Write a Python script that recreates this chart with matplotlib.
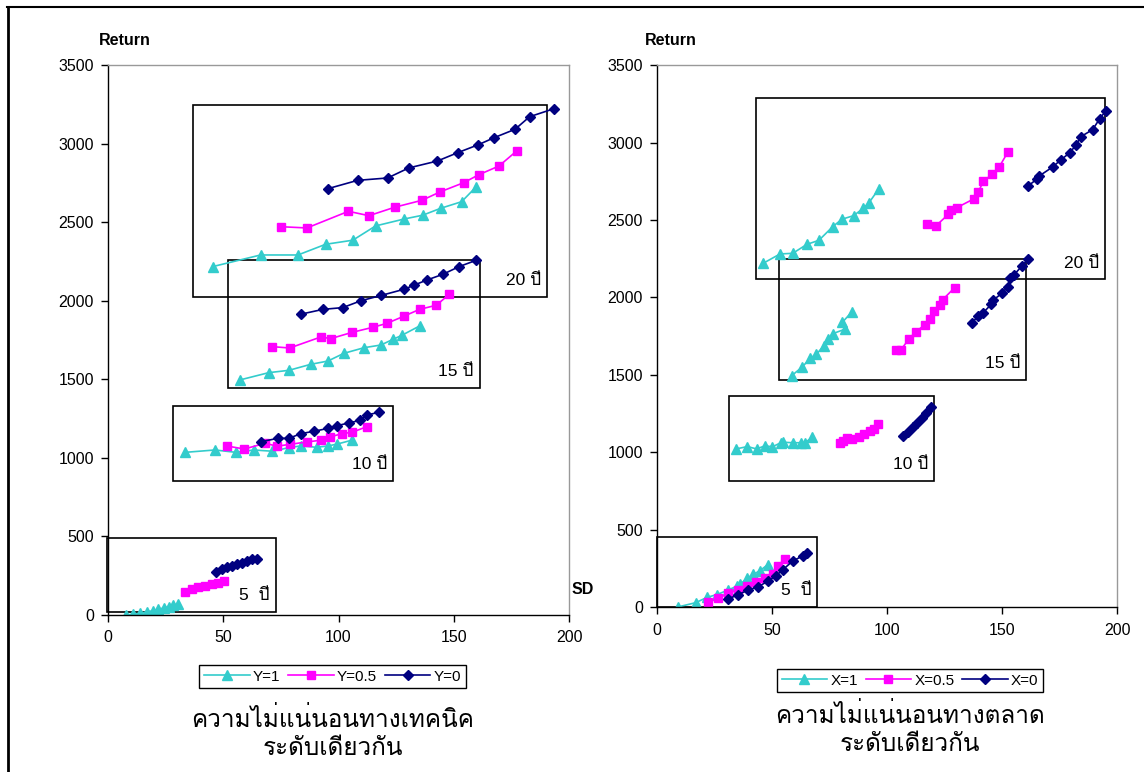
import matplotlib
matplotlib.use('Agg')
import matplotlib.pyplot as plt
from matplotlib import font_manager, ft2font
from matplotlib.lines import Line2D
from matplotlib.patches import Rectangle

# ---- left panel: technical uncertainty (Y) ----
L20_Y0_SD = [95.4, 108.3, 121.3, 130.5, 142.9, 151.7, 160.7, 167.6, 176.6, 182.9, 193.5]
L20_Y0_R = [2713, 2766, 2781, 2845, 2889, 2942, 2993, 3038, 3091, 3171, 3222]
L20_Y05_SD = [74.9, 86.3, 104.3, 113.2, 124.4, 136.2, 144.0, 154.3, 160.9, 169.6, 177.3]
L20_Y05_R = [2471, 2463, 2569, 2541, 2595, 2639, 2692, 2751, 2802, 2857, 2953]
L20_Y1_SD = [45.4, 66.2, 82.4, 94.4, 106.2, 116.1, 128.5, 136.5, 144.3, 153.4, 159.8]
L20_Y1_R = [2217, 2291, 2291, 2359, 2385, 2476, 2520, 2544, 2588, 2630, 2726]

L15_Y0_SD = [83.6, 93.3, 101.8, 109.8, 118.6, 128.5, 132.6, 138.4, 145.3, 152.3, 159.7]
L15_Y0_R = [1914, 1945, 1956, 2000, 2034, 2073, 2098, 2132, 2168, 2217, 2257]
L15_Y05_SD = [71.0, 78.8, 92.3, 96.7, 106.0, 115.0, 121.0, 128.3, 135.2, 142.4, 148.1]
L15_Y05_R = [1708, 1699, 1769, 1759, 1799, 1831, 1856, 1901, 1945, 1971, 2041]
L15_Y1_SD = [57.3, 69.7, 78.5, 87.9, 95.4, 102.3, 111.1, 118.4, 123.6, 127.5, 135.4]
L15_Y1_R = [1496, 1542, 1557, 1595, 1616, 1665, 1701, 1718, 1754, 1780, 1841]

L10_Y0_SD = [66.5, 73.6, 78.5, 83.6, 89.4, 95.6, 99.5, 104.4, 109.5, 112.4, 117.6]
L10_Y0_R = [1103, 1124, 1124, 1154, 1169, 1188, 1205, 1222, 1239, 1273, 1290]
L10_Y05_SD = [51.8, 59.1, 68.2, 73.3, 79.0, 86.2, 92.3, 96.3, 101.6, 106.0, 112.2]
L10_Y05_R = [1075, 1056, 1093, 1074, 1086, 1101, 1112, 1133, 1154, 1163, 1198]
L10_Y1_SD = [33.5, 46.4, 55.5, 63.3, 71.3, 78.5, 83.7, 90.5, 95.6, 99.5, 105.7]
L10_Y1_R = [1035, 1050, 1035, 1050, 1042, 1065, 1076, 1067, 1076, 1088, 1112]

L5_Y0_SD = [46.7, 49.3, 51.5, 53.7, 55.8, 58.0, 60.2, 62.3, 64.8]
L5_Y0_R = [276, 291, 304, 312, 325, 333, 344, 354, 358]
L5_Y05_SD = [33.4, 36.3, 39.2, 42.1, 45.0, 47.9, 50.3]
L5_Y05_R = [144, 165, 176, 185, 195, 206, 216]
L5_Y1_SD = [7.8, 11.0, 13.9, 16.8, 19.4, 21.8, 24.3, 26.5, 28.3, 30.5]
L5_Y1_R = [0, 4, 11, 19, 27, 36, 45, 53, 62, 70]

# ---- right panel: market uncertainty (X) ----
R20_X0_SD = [161.2, 165.1, 166.0, 172.0, 175.5, 179.4, 182.2, 184.3, 189.4, 192.5, 195.2]
R20_X0_R = [2718, 2763, 2782, 2842, 2887, 2933, 2984, 3038, 3083, 3154, 3205]
R20_X05_SD = [117.5, 121.4, 126.7, 127.7, 130.4, 137.7, 139.7, 141.9, 145.7, 148.7, 152.5]
R20_X05_R = [2474, 2464, 2537, 2565, 2580, 2636, 2681, 2750, 2795, 2840, 2937]
R20_X1_SD = [46.2, 53.5, 59.0, 65.2, 70.4, 76.4, 80.4, 85.5, 89.7, 92.2, 96.4]
R20_X1_R = [2221, 2281, 2285, 2343, 2369, 2457, 2505, 2528, 2576, 2612, 2700]

R15_X0_SD = [137.0, 139.7, 141.6, 145.3, 146.2, 150.0, 152.5, 153.6, 155.3, 158.6, 161.3]
R15_X0_R = [1836, 1883, 1898, 1956, 1984, 2027, 2070, 2124, 2147, 2203, 2248]
R15_X05_SD = [103.8, 106.0, 109.6, 112.5, 116.5, 118.7, 120.3, 122.9, 124.2, 129.4]
R15_X05_R = [1661, 1661, 1734, 1778, 1825, 1861, 1913, 1952, 1986, 2063]
R15_X1_SD = [58.6, 63.0, 66.7, 69.3, 72.6, 74.3, 76.5, 81.6, 80.6, 84.7]
R15_X1_R = [1496, 1550, 1608, 1634, 1689, 1730, 1767, 1795, 1840, 1907]

R10_X0_SD = [106.8, 109.3, 111.4, 113.2, 115.1, 117.0, 119.1]
R10_X0_R = [1108, 1134, 1167, 1188, 1221, 1253, 1292]
R10_X05_SD = [79.6, 81.0, 82.5, 84.8, 87.7, 90.1, 92.6, 94.5, 96.1]
R10_X05_R = [1063, 1075, 1095, 1085, 1100, 1120, 1139, 1150, 1184]
R10_X1_SD = [34.3, 39.3, 43.3, 47.1, 50.1, 53.8, 54.9, 59.0, 62.5, 64.3, 67.5]
R10_X1_R = [1023, 1038, 1023, 1044, 1036, 1063, 1066, 1063, 1063, 1063, 1098]

R5_X0_SD = [31.0, 35.3, 39.7, 44.0, 48.4, 51.7, 54.6, 59.0, 63.3, 65.1]
R5_X0_R = [55, 83, 113, 134, 171, 205, 242, 300, 332, 354]
R5_X05_SD = [22.3, 26.7, 31.0, 35.3, 39.0, 43.0, 47.0, 50.6, 52.5, 55.7]
R5_X05_R = [37, 59, 92, 113, 139, 167, 188, 216, 268, 315]
R5_X1_SD = [9.0, 16.8, 21.9, 26.0, 31.0, 34.9, 36.1, 39.3, 41.9, 44.8, 48.1]
R5_X1_R = [3, 31, 66, 83, 113, 139, 150, 190, 214, 238, 276]

# horizon boxes (x0, y0, x1, y1) and labels
HORIZON_LABELS = ['20 ปี', '15 ปี', '10 ปี', '5  ปี']
LEFT_BOXES = [(36.7, 2026, 190.5, 3244), (51.9, 1447, 161.2, 2257),
              (28.2, 853, 123.5, 1330), (-0.5, 21, 72.7, 492)]
RIGHT_BOXES = [(43.2, 2117, 194.6, 3285), (53.2, 1468, 160.6, 2248),
               (31.2, 816, 120.4, 1365), (0, 5, 69.7, 453)]

LEFT_NAMES = ['Y=1', 'Y=0.5', 'Y=0']
RIGHT_NAMES = ['X=1', 'X=0.5', 'X=0']
LEFT_CAPTION = 'ความไม่แน่นอนทางเทคนิค\nระดับเดียวกัน'
RIGHT_CAPTION = 'ความไม่แน่นอนทางตลาด\nระดับเดียวกัน'

CYAN = '#33CCCC'
MAGENTA = '#FF00FF'
NAVY = '#000080'


def find_thai_font():
    """first installed family that has Thai glyphs"""
    for f in font_manager.fontManager.ttflist:
        try:
            if 0x0E01 in ft2font.FT2Font(f.fname).get_charmap():
                return f.name
        except Exception:
            pass
    return 'DejaVu Sans'


THAI = find_thai_font()
plt.rcParams['font.family'] = ['Liberation Sans', THAI, 'DejaVu Sans']


def draw_panel(ax, groups, boxes):
    styles = [(CYAN, '^', 6.5), (MAGENTA, 's', 5.5), (NAVY, 'D', 5.5)]
    handles = []
    for series in groups:
        hs = []
        for (sd, ret), (col, mk, ms) in zip(series, styles):
            h, = ax.plot(sd, ret, color=col, marker=mk, markersize=ms,
                         markeredgecolor=col, lw=1.2)
            hs.append(h)
        handles = hs
    for (x0, y0, x1, y1), lab in zip(boxes, HORIZON_LABELS):
        ax.add_patch(Rectangle((x0, y0), x1 - x0, y1 - y0, fill=False,
                               edgecolor='black', lw=1.2, clip_on=False))
        ax.text(x1 - 2.5, y0 + 55, lab, ha='right', va='bottom', fontsize=12.5)

    ax.set_xlim(0, 200)
    ax.set_ylim(0, 3500)
    ax.set_xticks([0, 50, 100, 150, 200])
    ax.set_yticks(range(0, 3501, 500))
    for s in ['left', 'bottom']:
        ax.spines[s].set_color('black')
        ax.spines[s].set_linewidth(1.0)
    for s in ['top', 'right']:
        ax.spines[s].set_color('#999999')
        ax.spines[s].set_linewidth(1.0)
    ax.tick_params(direction='out', length=5, width=1, labelsize=11.5,
                   top=False, right=False)
    ax.tick_params(axis='y', pad=5)
    ax.tick_params(axis='x', pad=6)
    return handles


fig = plt.figure(figsize=(11.44, 7.72), dpi=100)
ax1 = fig.add_axes([0.0944, 0.2034, 0.4030, 0.7124])
ax2 = fig.add_axes([0.5743, 0.2131, 0.4021, 0.7027])

left_groups = [
    [(L20_Y1_SD, L20_Y1_R), (L20_Y05_SD, L20_Y05_R), (L20_Y0_SD, L20_Y0_R)],
    [(L15_Y1_SD, L15_Y1_R), (L15_Y05_SD, L15_Y05_R), (L15_Y0_SD, L15_Y0_R)],
    [(L10_Y1_SD, L10_Y1_R), (L10_Y05_SD, L10_Y05_R), (L10_Y0_SD, L10_Y0_R)],
    [(L5_Y1_SD, L5_Y1_R), (L5_Y05_SD, L5_Y05_R), (L5_Y0_SD, L5_Y0_R)],
]
right_groups = [
    [(R20_X1_SD, R20_X1_R), (R20_X05_SD, R20_X05_R), (R20_X0_SD, R20_X0_R)],
    [(R15_X1_SD, R15_X1_R), (R15_X05_SD, R15_X05_R), (R15_X0_SD, R15_X0_R)],
    [(R10_X1_SD, R10_X1_R), (R10_X05_SD, R10_X05_R), (R10_X0_SD, R10_X0_R)],
    [(R5_X1_SD, R5_X1_R), (R5_X05_SD, R5_X05_R), (R5_X0_SD, R5_X0_R)],
]

h1 = draw_panel(ax1, left_groups, LEFT_BOXES)
h2 = draw_panel(ax2, right_groups, RIGHT_BOXES)

legend_kw = dict(loc='center', ncol=3, fontsize=11, frameon=True, fancybox=False,
                 edgecolor='black', framealpha=1, handlelength=3.0,
                 handletextpad=0.2, columnspacing=0.5, borderpad=0.3)
leg1 = fig.legend(h1, LEFT_NAMES, bbox_to_anchor=(0.2906, 0.1237), **legend_kw)
leg2 = fig.legend(h2, RIGHT_NAMES, bbox_to_anchor=(0.7955, 0.1185), **legend_kw)
for leg in (leg1, leg2):
    leg.get_frame().set_linewidth(1.0)

# axis captions
fig.text(0.109, 0.948, 'Return', fontsize=11.5, fontweight='bold', ha='center', va='center')
fig.text(0.5865, 0.948, 'Return', fontsize=11.5, fontweight='bold', ha='center', va='center')
fig.text(0.5096, 0.2358, 'SD', fontsize=11.5, fontweight='bold', ha='center', va='center')

fig.text(0.2910, 0.0500, LEFT_CAPTION, fontsize=17.5, ha='center', va='center',
         family=[THAI, 'DejaVu Sans'], linespacing=1.28)
fig.text(0.7955, 0.0550, RIGHT_CAPTION, fontsize=17.5, ha='center', va='center',
         family=[THAI, 'DejaVu Sans'], linespacing=1.28)

# page frame lines (top and left)
fig.add_artist(Line2D([0.006, 1.0], [0.991, 0.991], color='black', lw=1.5))
fig.add_artist(Line2D([0.007, 0.007], [0.0, 0.991], color='black', lw=2))

fig.savefig('out.png', dpi=100)
